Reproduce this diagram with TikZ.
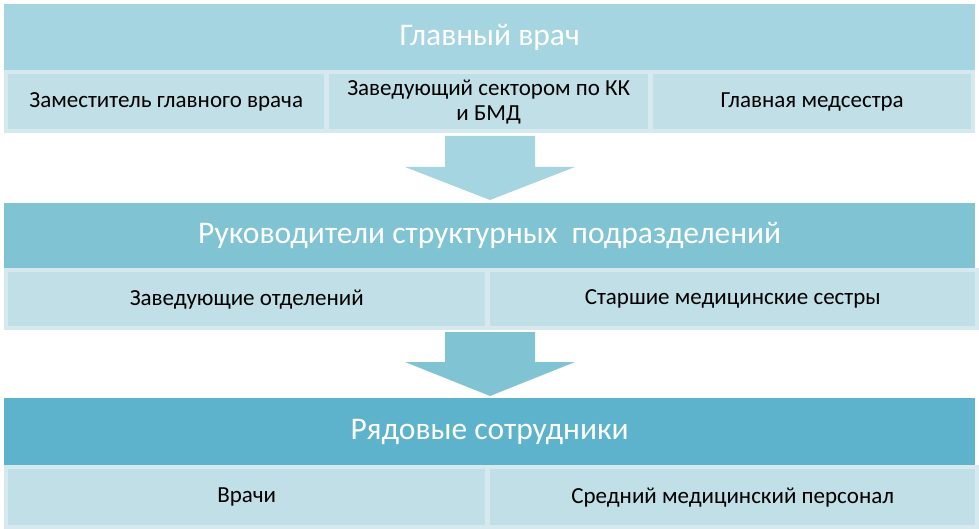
\documentclass[tikz,border=0pt]{standalone}
\usepackage{fontspec}
\setmainfont{Carlito}
\definecolor{b1}{HTML}{A6D5E2}
\definecolor{b2}{HTML}{80C4D4}
\definecolor{b3}{HTML}{5DB3CB}
\definecolor{sb}{HTML}{C0DFE7}
\definecolor{sr}{HTML}{D6E9EE}
\definecolor{ar1}{HTML}{A6D5E2}
\definecolor{ar2}{HTML}{80C4D4}
\begin{document}
\begin{tikzpicture}[x=1pt,y=-1pt,
 band/.style={draw=none,anchor=north west,inner sep=0,text=white,font=\fontsize{31.5}{34}\selectfont},
 sub/.style={fill=sb,anchor=north west,inner sep=0,align=center,font=\fontsize{23}{25}\selectfont},
 strip/.style={fill=sr}]
\useasboundingbox (0,0) rectangle (979,529);
% top
\node[band,fill=b1,minimum width=971,minimum height=66] (t1) at (4,4) {Главный врач};
\fill[strip] (4,70) rectangle (975,133);
\node[sub,minimum width=316,minimum height=55] (s11) at (8,74) {Заместитель главного врача};
\node[sub,minimum width=319,minimum height=55] (s12) at (329,74) {Заведующий сектором по КК\\и БМД};
\node[sub,minimum width=318,minimum height=55] (s13) at (653,74) {Главная медсестра};
\fill[ar1] (445,136) -- (535,136) -- (535,167) -- (575,167) -- (490,200) -- (405,167) -- (445,167) -- cycle;
% middle
\node[band,fill=b2,minimum width=971,minimum height=65] (t2) at (4,203) {Руководители структурных\ \ подразделений};
\fill[strip] (4,268) rectangle (979,330);
\node[sub,minimum width=477,minimum height=54] (s21) at (8,272) {Заведующие отделений};
\node[sub,minimum width=485,minimum height=54] (s22) at (490,272) {Старшие медицинские сестры};
\fill[ar2] (445,332) -- (535,332) -- (535,362) -- (575,362) -- (490,396) -- (405,362) -- (445,362) -- cycle;
% bottom
\node[band,fill=b3,minimum width=971,minimum height=67] (t3) at (4,398) {Рядовые сотрудники};
\fill[strip] (4,465) rectangle (979,529);
\node[sub,minimum width=477,minimum height=56] (s31) at (8,469) {Врачи};
\node[sub,minimum width=485,minimum height=56] (s32) at (490,469) {Средний медицинский персонал};
\end{tikzpicture}
\end{document}
